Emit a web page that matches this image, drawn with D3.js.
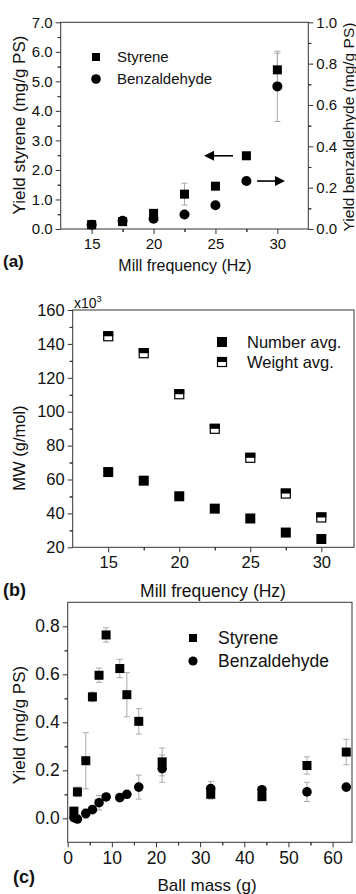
<!DOCTYPE html>
<html>
<head>
<meta charset="utf-8">
<script src="https://cdn.jsdelivr.net/npm/d3@7"></script>
<style>
  body { margin: 0; background: #fff; }
  svg { display: block; font-family: "Liberation Sans", Arial, sans-serif; }
  .domain { display: none; }
  .tick line { stroke: #333; }
  .tick text { fill: #111; }
</style>
</head>
<body>
<svg id="chart" width="356" height="894"></svg>
<script>
// panel (a): yield vs mill frequency
const freqA = [15, 17.5, 20, 22.5, 25, 27.5, 30];
const styreneA = [0.15, 0.25, 0.53, 1.18, 1.45, 2.48, 5.39];
const styreneAErr = [0, 0, 0, 0.37, 0, 0, 0.56];
const benzA = [0.02, 0.04, 0.05, 0.07, 0.115, 0.232, 0.69];
const benzAErr = [0, 0, 0, 0, 0, 0, 0.17];
const ticksAx = [15, 20, 25, 30];
const ticksAyL = [0, 1, 2, 3, 4, 5, 6, 7];
const ticksAyR = [0, 0.2, 0.4, 0.6, 0.8, 1.0];

// panel (b): molecular weight vs mill frequency
const freqB = [15, 17.5, 20, 22.5, 25, 27.5, 30];
const numberAvg = [64.4, 59.3, 50.1, 42.8, 37.0, 28.7, 24.9];
const weightAvg = [144.5, 134.5, 110.3, 89.9, 72.8, 51.7, 37.6];
const ticksBx = [15, 20, 25, 30];
const ticksBy = [20, 40, 60, 80, 100, 120, 140, 160];

// panel (c): yield vs ball mass
const massC = [1.4, 2.2, 4.1, 5.6, 7.1, 8.7, 11.8, 13.4, 16.1, 21.4, 32.4, 44.0, 54.2, 63.1];
const styreneC = [0.03, 0.11, 0.24, 0.506, 0.596, 0.764, 0.624, 0.515, 0.404, 0.235, 0.10, 0.09, 0.22, 0.276];
const styreneCErr = [0.01, 0.02, 0.117, 0.02, 0.03, 0.03, 0.038, 0.092, 0.053, 0.058, 0.02, 0.01, 0.036, 0.053];
const benzC = [0.003, -0.003, 0.02, 0.036, 0.065, 0.089, 0.086, 0.10, 0.13, 0.207, 0.124, 0.119, 0.11, 0.13];
const benzCErr = [0.005, 0.005, 0.02, 0.01, 0.03, 0.01, 0.01, 0.01, 0.05, 0.057, 0.03, 0.01, 0.04, 0.01];
const ticksCx = [0, 10, 20, 30, 40, 50, 60];
const ticksCy = [0, 0.2, 0.4, 0.6, 0.8];

const svg = d3.select("#chart");
const ERR = "#aaa";

// minor ticks halfway between majors
function halves(t) {
  const out = [];
  const step = t[1] - t[0];
  for (let i = 0; i < t.length; i++) out.push(t[i] - step / 2, t[i] + step / 2);
  return out;
}

function frame(x, y) {
  const [x0, x1] = x.range(), [y0, y1] = y.range();
  svg.append("rect")
    .attr("x", x0).attr("y", y1)
    .attr("width", x1 - x0).attr("height", y0 - y1)
    .attr("fill", "none").attr("stroke", "#333").attr("stroke-width", 1);
}

function axis(gen, scale, ticks, fmt, pos, fs, pad) {
  const [lo, hi] = d3.extent(scale.domain());
  const minor = halves(ticks).filter(v => v > lo && v < hi);
  svg.append("g").attr("transform", pos)
    .call(gen(scale).tickValues(minor).tickSize(3).tickFormat(""));
  const g = svg.append("g").attr("transform", pos)
    .call(gen(scale).tickValues(ticks).tickSize(5).tickPadding(pad).tickFormat(fmt));
  g.selectAll("text").style("font-size", fs + "px");
  return g;
}

function errBars(x, y, xs, ys, es) {
  const g = svg.append("g").attr("stroke", ERR).attr("stroke-width", 1);
  xs.forEach((v, i) => {
    if (!es[i]) return;
    const cx = x(v), t = y(ys[i] + es[i]), b = y(ys[i] - es[i]);
    g.append("line").attr("x1", cx).attr("x2", cx).attr("y1", t).attr("y2", b);
    g.append("line").attr("x1", cx - 3).attr("x2", cx + 3).attr("y1", t).attr("y2", t);
    g.append("line").attr("x1", cx - 3).attr("x2", cx + 3).attr("y1", b).attr("y2", b);
  });
}

function squares(x, y, xs, ys, s) {
  svg.append("g").selectAll("rect").data(xs).join("rect")
    .attr("x", (d) => x(d) - s / 2)
    .attr("y", (d, i) => y(ys[i]) - s / 2)
    .attr("width", s).attr("height", s).attr("fill", "#000");
}

function circles(x, y, xs, ys, r) {
  svg.append("g").selectAll("circle").data(xs).join("circle")
    .attr("cx", d => x(d)).attr("cy", (d, i) => y(ys[i]))
    .attr("r", r).attr("fill", "#000");
}

function halfSquare(g, cx, cy, s) {
  g.append("rect").attr("x", cx - s / 2 + 0.5).attr("y", cy - s / 2 + 0.5)
    .attr("width", s - 1).attr("height", s - 1)
    .attr("fill", "#fff").attr("stroke", "#000").attr("stroke-width", 1.2);
  g.append("rect").attr("x", cx - s / 2).attr("y", cy - s / 2)
    .attr("width", s).attr("height", s / 2).attr("fill", "#000");
}

function label(x, y, txt, fs, opts = {}) {
  const t = svg.append("text").attr("x", x).attr("y", y)
    .attr("fill", "#111").style("font-size", fs + "px")
    .attr("text-anchor", opts.anchor || "start")
    .text(txt);
  if (opts.bold) t.style("font-weight", "bold");
  if (opts.rot) t.attr("transform", `rotate(-90,${x},${y})`);
  return t;
}

// ---------- (a) ----------
{
  const x = d3.scaleLinear().domain([12.5, 32.5]).range([60.7, 308.3]);
  const yL = d3.scaleLinear().domain([0, 7]).range([229, 22.3]);
  const yR = d3.scaleLinear().domain([0, 1]).range([229, 22.3]);
  const fs = 15;

  axis(d3.axisBottom, x, ticksAx, d3.format("d"), "translate(0,229)", fs, 4);
  axis(d3.axisLeft, yL, ticksAyL, d3.format(".1f"), "translate(60.7,0)", fs, 3);
  axis(d3.axisRight, yR, ticksAyR, d3.format(".1f"), "translate(308.3,0)", fs, 3);
  frame(x, yL);

  errBars(x, yL, freqA, styreneA, styreneAErr);
  errBars(x, yR, freqA, benzA, benzAErr);
  squares(x, yL, freqA, styreneA, 9);
  circles(x, yR, freqA, benzA, 5);

  // arrows pointing to each series' axis
  const arrow = (xa, xb, yy) => {
    const dir = Math.sign(xb - xa);
    svg.append("line").attr("x1", xa).attr("x2", xb - dir * 8)
      .attr("y1", yy).attr("y2", yy).attr("stroke", "#000").attr("stroke-width", 1.6);
    svg.append("path")
      .attr("d", `M${xb},${yy} L${xb - dir * 10},${yy - 5} L${xb - dir * 10},${yy + 5} Z`)
      .attr("fill", "#000");
  };
  arrow(x(26.42), x(24.08), yL(styreneA[5]));
  arrow(x(28.36), x(30.62), yR(benzA[5]));

  // legend
  svg.append("rect").attr("x", 92).attr("y", 53).attr("width", 8).attr("height", 8);
  svg.append("circle").attr("cx", 96).attr("cy", 79).attr("r", 4.8);
  label(117, 62, "Styrene", 15);
  label(117, 84, "Benzaldehyde", 15);

  label(185, 271, "Mill frequency (Hz)", 16, { anchor: "middle" });
  label(25, 125, "Yield styrene (mg/g PS)", 17, { anchor: "middle", rot: true });
  label(354, 127, "Yield benzaldehyde (mg/g PS)", 15.5, { anchor: "middle", rot: true });
  label(3, 267, "(a)", 17, { bold: true });
}

// ---------- (b) ----------
{
  const x = d3.scaleLinear().domain([12.5, 32.3]).range([72.7, 354]);
  const y = d3.scaleLinear().domain([20, 160]).range([547.3, 310]);
  const fs = 16.5;

  axis(d3.axisBottom, x, ticksBx, d3.format("d"), "translate(0,547.3)", fs, 4);
  axis(d3.axisLeft, y, ticksBy, d3.format("d"), "translate(72.7,0)", fs, 3);
  frame(x, y);

  squares(x, y, freqB, numberAvg, 10);
  const gw = svg.append("g");
  freqB.forEach((f, i) => halfSquare(gw, x(f), y(weightAvg[i]), 10));

  // legend
  svg.append("rect").attr("x", 217).attr("y", 337).attr("width", 10).attr("height", 10);
  halfSquare(svg.append("g"), 222, 362, 10);
  label(247, 347.5, "Number avg.", 16.5);
  label(247, 367.5, "Weight avg.", 16.5);

  const mult = label(74, 308, "x10", 14);
  mult.append("tspan").attr("dy", -6).style("font-size", "9px").text("3");

  label(213, 597, "Mill frequency (Hz)", 17.5, { anchor: "middle" });
  label(25, 448, "MW (g/mol)", 16.5, { anchor: "middle", rot: true });
  label(3, 596, "(b)", 18, { bold: true });
}

// ---------- (c) ----------
{
  const x = d3.scaleLinear().domain([0, 64.4]).range([67.7, 352]);
  const y = d3.scaleLinear().domain([-0.1, 0.9]).range([842.3, 602.3]);
  const fs = 17.5;

  axis(d3.axisBottom, x, ticksCx, d3.format("d"), "translate(0,842.3)", fs, 4);
  axis(d3.axisLeft, y, ticksCy, d3.format(".1f"), "translate(67.7,0)", fs, 3);
  frame(x, y);

  errBars(x, y, massC, styreneC, styreneCErr);
  errBars(x, y, massC, benzC, benzCErr);
  squares(x, y, massC, styreneC, 9);
  circles(x, y, massC, benzC, 4.8);

  // legend
  svg.append("rect").attr("x", 189).attr("y", 634).attr("width", 8).attr("height", 8);
  svg.append("circle").attr("cx", 193).attr("cy", 661).attr("r", 4.6);
  label(218, 644, "Styrene", 17.5);
  label(218, 667, "Benzaldehyde", 17.5);

  label(207, 891, "Ball mass (g)", 17, { anchor: "middle" });
  label(25, 725, "Yield (mg/g PS)", 17, { anchor: "middle", rot: true });
  label(13, 883, "(c)", 18, { bold: true });
}
</script>
</body>
</html>
